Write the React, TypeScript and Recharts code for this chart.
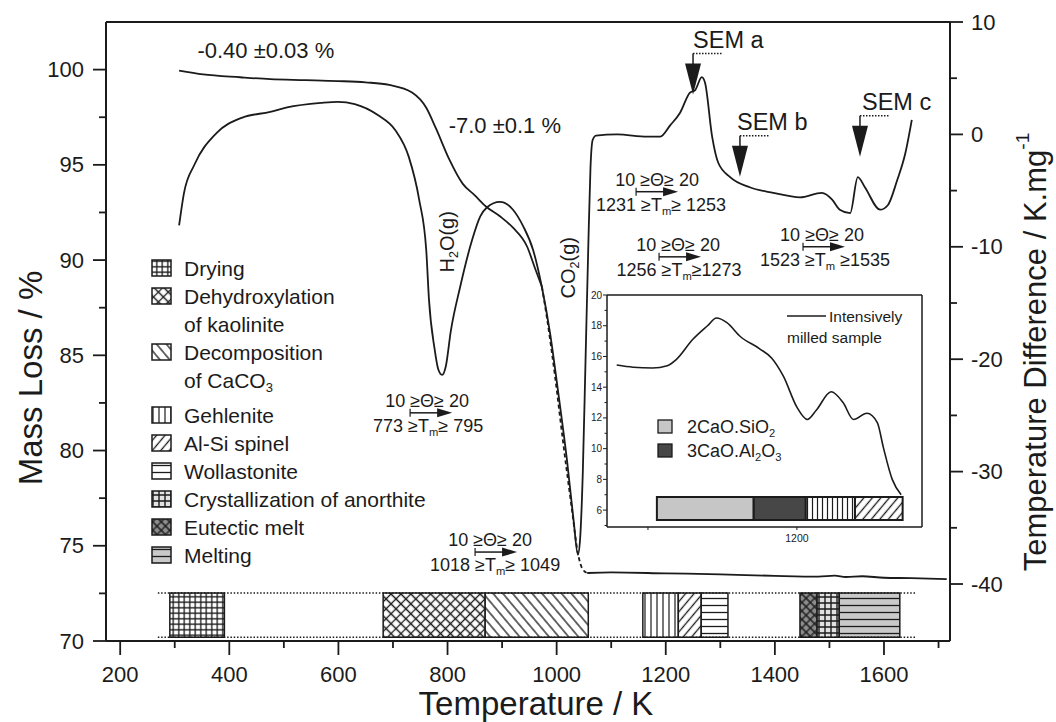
import React from 'react';
import {
  ComposedChart,
  LineChart,
  Line,
  XAxis,
  YAxis,
  ReferenceArea,
  ReferenceLine,
  ReferenceDot,
} from 'recharts';

const FONT = '"Liberation Sans", Arial, Helvetica, sans-serif';
const INK = '#1b1b1b';

// mass loss (TG), left axis
const tgTemp = [308, 352, 420, 475, 540, 599, 650, 693, 735, 761, 779, 803, 828, 850, 871, 896, 920, 946, 960, 973];
const tgMass = [99.95, 99.75, 99.6, 99.5, 99.45, 99.4, 99.33, 99.2, 98.8, 98.0, 96.9, 95.3, 94.0, 93.4, 92.8, 92.3, 91.7, 90.7, 89.6, 88.6];
const tgDashTemp = [973, 982, 997, 1012, 1028, 1039, 1047, 1056];
const tgDashMass = [88.6, 87.0, 83.9, 80.4, 76.9, 74.6, 73.8, 73.57];
const tgTailTemp = [1056, 1100, 1200, 1300, 1400, 1480, 1510, 1530, 1560, 1600, 1650, 1715];
const tgTailMass = [73.57, 73.6, 73.55, 73.5, 73.42, 73.38, 73.43, 73.36, 73.4, 73.32, 73.3, 73.25];

// temperature difference (DTA), right axis
const dtaTemp = [
  308, 317, 336, 376, 424, 475, 506, 568, 599, 630, 673, 704, 729, 748, 761, 766, 776, 783, 790, 797,
  806, 823, 845, 860, 872, 896, 920, 939, 957, 973, 988, 1003, 1019, 1031, 1039, 1043, 1048, 1053, 1058, 1062,
  1066, 1072, 1111, 1166, 1190, 1208, 1226, 1244, 1254, 1266, 1272, 1285, 1296, 1318, 1354, 1397, 1446, 1486, 1505, 1519,
  1538, 1552, 1565, 1593, 1607, 1624, 1639, 1651,
];
const dtaDiff = [
  -8.1, -5.2, -2.7, 0.1, 1.5, 2.0, 2.4, 2.8, 2.9, 2.7, 1.7, 0.4, -2.0, -5.8, -10.3, -14.7, -19.0, -20.9, -21.4, -20.6,
  -17.5, -13.6, -9.4, -7.3, -6.5, -6.0, -6.7, -8.2, -10.3, -13.6, -17.7, -23.0, -29.0, -34.3, -37.4, -36.0, -30.0, -20.0, -10.0, -3.0,
  -0.5, -0.1, 0.0, -0.2, -0.2, 0.8, 1.9, 3.7, 3.95, 5.1, 4.6, -0.2, -2.5, -3.8, -4.7, -5.2, -5.6, -5.2, -5.8, -6.7,
  -7.0, -3.8, -4.7, -6.7, -6.3, -4.1, -1.7, 1.3,
];

// inset: intensively milled sample
const insetTemp = [1079, 1090, 1103, 1113, 1119, 1130, 1140, 1146, 1153, 1162, 1175, 1183, 1191, 1200, 1207, 1213, 1223, 1231, 1238, 1247, 1254, 1258, 1264, 1270];
const insetVal = [15.44, 15.3, 15.25, 15.4, 15.8, 17.1, 18.0, 18.5, 18.2, 17.3, 16.5, 15.9, 14.7, 12.7, 11.9, 12.5, 13.7, 13.0, 11.9, 12.3, 11.7, 10.1, 8.0, 7.0];

// reaction ranges
const phaseNames = [
  'Drying',
  'Dehydroxylation|of kaolinite',
  'Decomposition|of CaCO_3',
  'Gehlenite',
  'Al-Si spinel',
  'Wollastonite',
  'Crystallization of anorthite',
  'Eutectic melt',
  'Melting',
];
const phasePattern = ['p-grid', 'p-diamond', 'p-back', 'p-vert', 'p-fwd', 'p-horiz', 'p-grid-gray', 'p-diamond-dark', 'p-horiz-gray'];
const phaseStart = [291, 682, 869, 1158, 1223, 1265, 1477, 1446, 1518];
const phaseEnd = [391, 869, 1058, 1223, 1265, 1314, 1518, 1477, 1629];

const insetNames = ['2CaO.SiO_2', '3CaO.Al_2O_3', 'Gehlenite', 'Al-Si spinel'];
const insetFill = ['#c6c6c6', '#474747', 'url(#p-vert-fine)', 'url(#p-fwd)'];
const insetStart = [1106, 1171, 1206, 1239];
const insetEnd = [1171, 1206, 1239, 1271];

const xTicks = [200, 300, 400, 500, 600, 700, 800, 900, 1000, 1100, 1200, 1300, 1400, 1500, 1600, 1700];
const massTicks = [70, 72.5, 75, 77.5, 80, 82.5, 85, 87.5, 90, 92.5, 95, 97.5, 100];
const diffTicks = [-40, -35, -30, -25, -20, -15, -10, -5, 0, 5, 10];
const insetYTicks = [5, 6, 7, 8, 9, 10, 11, 12, 13, 14, 15, 16, 17, 18, 19, 20];
const insetXTicks = [1100, 1200];

const zip = (xs: number[], ys: number[]) => xs.map((t, i) => ({ t, v: ys[i] }));

// text with _x subscripts and ^x superscripts
function Rich({ text, size }: { text: string; size: number }) {
  const parts = text.split(/([_^]-?[0-9a-z])/).filter(Boolean);
  let off = 0;
  return (
    <>
      {parts.map((p, i) => {
        let target = 0;
        let body = p;
        let fs: number | undefined;
        if (p[0] === '_') {
          target = size * 0.35;
          body = p.slice(1);
          fs = size * 0.62;
        } else if (p[0] === '^') {
          target = -size * 0.42;
          body = p.slice(1);
          fs = size * 0.62;
        }
        const dy = target - off;
        off = target;
        return (
          <tspan key={i} dy={dy} fontSize={fs}>
            {body}
          </tspan>
        );
      })}
    </>
  );
}

function LeftTick({ x, y, payload }: any) {
  const v = payload.value;
  const major = v % 5 === 0;
  return (
    <g>
      <line x1={x} x2={x - (major ? 13 : 7)} y1={y} y2={y} stroke={INK} strokeWidth={1.8} />
      {major && (
        <text x={x - 22} y={y} textAnchor="end" dominantBaseline="central" fontSize={22} fill={INK} fontFamily={FONT}>
          {v}
        </text>
      )}
    </g>
  );
}

function RightTick({ x, y, payload }: any) {
  const v = payload.value;
  const major = v % 10 === 0;
  return (
    <g>
      <line x1={x} x2={x + (major ? 13 : 7)} y1={y} y2={y} stroke={INK} strokeWidth={1.8} />
      {major && (
        <text x={x + 21} y={y} textAnchor="start" dominantBaseline="central" fontSize={22} fill={INK} fontFamily={FONT}>
          {v}
        </text>
      )}
    </g>
  );
}

function BottomTick({ x, y, payload }: any) {
  const v = payload.value;
  const major = v % 200 === 0 && v <= 1600;
  return (
    <g>
      <line x1={x} x2={x} y1={y} y2={y + (major ? 14 : 7)} stroke={INK} strokeWidth={1.8} />
      {major && (
        <text x={x} y={y + 33} textAnchor="middle" dominantBaseline="central" fontSize={22} fill={INK} fontFamily={FONT}>
          {v}
        </text>
      )}
    </g>
  );
}

function InsetLeftTick({ x, y, payload }: any) {
  const v = payload.value;
  const major = v % 2 === 0;
  return (
    <g>
      <line x1={x} x2={x - (major ? 4 : 2.5)} y1={y} y2={y} stroke={INK} strokeWidth={1} />
      {major && (
        <text x={x - 5} y={y} textAnchor="end" dominantBaseline="central" fontSize={10} fill={INK} fontFamily={FONT}>
          {v}
        </text>
      )}
    </g>
  );
}

function InsetBottomTick({ x, y, payload }: any) {
  const v = payload.value;
  return (
    <g>
      <line x1={x} x2={x} y1={y} y2={y + 3} stroke={INK} strokeWidth={1} />
      {v % 200 === 0 && (
        <text x={x} y={y + 11} textAnchor="middle" dominantBaseline="central" fontSize={10.5} fill={INK} fontFamily={FONT}>
          {v}
        </text>
      )}
    </g>
  );
}

function ThetaNote({ cx, cy, lo, dxTop, dxBot }: any) {
  return (
    <g fontFamily={FONT} fontSize={18} fill={INK}>
      <text x={cx + dxTop} y={cy - 12} textAnchor="middle" dominantBaseline="central">
        10 ≥Θ≥ 20
      </text>
      <line x1={cx} x2={cx + 30} y1={cy} y2={cy} stroke={INK} strokeWidth={1.5} />
      <line x1={cx} x2={cx} y1={cy - 4} y2={cy + 4} stroke={INK} strokeWidth={1.2} />
      <polygon points={`${cx + 27},${cy - 4.5} ${cx + 42},${cy} ${cx + 27},${cy + 4.5}`} fill={INK} />
      <text x={cx + dxBot} y={cy + 13} textAnchor="middle" dominantBaseline="central">
        <Rich text={lo} size={18} />
      </text>
    </g>
  );
}

function SemNote({ cx, cy, label, dx }: any) {
  const top = cy - 41;
  return (
    <g fontFamily={FONT} fill={INK}>
      <line x1={cx} x2={cx} y1={top} y2={cy - 28} stroke={INK} strokeWidth={1.5} />
      <polygon points={`${cx - 8},${cy - 31} ${cx + 8},${cy - 31} ${cx},${cy}`} fill={INK} />
      <line x1={cx} x2={cx + 30} y1={top} y2={top} stroke={INK} strokeWidth={1.5} strokeDasharray="1.5 1.5" />
      <text x={cx + dx} y={top - 14} dominantBaseline="central" fontSize={23.5}>
        {label}
      </text>
    </g>
  );
}

function Note({ cx, cy, text, size = 20, angle = 0 }: any) {
  return (
    <text
      x={cx}
      y={cy}
      textAnchor="middle"
      dominantBaseline="central"
      fontSize={size}
      fill={INK}
      fontFamily={FONT}
      transform={angle ? `rotate(${angle} ${cx} ${cy})` : undefined}
    >
      <Rich text={text} size={size} />
    </text>
  );
}

function Patterns() {
  return (
    <svg width={0} height={0} style={{ position: 'absolute' }}>
      <defs>
        <pattern id="p-grid" width={5.5} height={5.5} patternUnits="userSpaceOnUse">
          <rect width={5.5} height={5.5} fill="#fff" />
          <path d="M0 2.75H5.5M2.75 0V5.5" stroke={INK} strokeWidth={1.3} />
        </pattern>
        <pattern id="p-grid-gray" width={6} height={6} patternUnits="userSpaceOnUse">
          <rect width={6} height={6} fill="#e2e2e2" />
          <path d="M0 3H6M3 0V6" stroke={INK} strokeWidth={1.4} />
        </pattern>
        <pattern id="p-diamond" width={7} height={7} patternUnits="userSpaceOnUse" patternTransform="rotate(45)">
          <rect width={7} height={7} fill="#fff" />
          <path d="M0 3.5H7M3.5 0V7" stroke={INK} strokeWidth={1.3} />
        </pattern>
        <pattern id="p-diamond-dark" width={6} height={6} patternUnits="userSpaceOnUse" patternTransform="rotate(45)">
          <rect width={6} height={6} fill="#8c8c8c" />
          <path d="M0 3H6M3 0V6" stroke={INK} strokeWidth={1.3} />
        </pattern>
        <pattern id="p-back" width={7.5} height={7.5} patternUnits="userSpaceOnUse" patternTransform="rotate(-40)">
          <rect width={7.5} height={7.5} fill="#fff" />
          <path d="M3.75 0V7.5" stroke={INK} strokeWidth={1.3} />
        </pattern>
        <pattern id="p-fwd" width={6.5} height={6.5} patternUnits="userSpaceOnUse" patternTransform="rotate(40)">
          <rect width={6.5} height={6.5} fill="#fff" />
          <path d="M3.25 0V6.5" stroke={INK} strokeWidth={1.3} />
        </pattern>
        <pattern id="p-vert" width={6} height={6} patternUnits="userSpaceOnUse">
          <rect width={6} height={6} fill="#fff" />
          <path d="M3 0V6" stroke={INK} strokeWidth={1.2} />
        </pattern>
        <pattern id="p-vert-fine" width={5} height={5} patternUnits="userSpaceOnUse">
          <rect width={5} height={5} fill="#fff" />
          <path d="M2.5 0V5" stroke={INK} strokeWidth={1.2} />
        </pattern>
        <pattern id="p-horiz" width={7} height={7} patternUnits="userSpaceOnUse">
          <rect width={7} height={7} fill="#fff" />
          <path d="M0 3.5H7" stroke={INK} strokeWidth={1.3} />
        </pattern>
        <pattern id="p-horiz-gray" width={7} height={7} patternUnits="userSpaceOnUse">
          <rect width={7} height={7} fill="#c9c9c9" />
          <path d="M0 3.5H7" stroke={INK} strokeWidth={1.3} />
        </pattern>
      </defs>
    </svg>
  );
}

function Overlay() {
  // legend rows for the reaction ranges
  const lineY = (k: number) => 268 + k * 28 + (k > 4 ? 7 : 0);
  let row = 0;
  const rows: React.ReactNode[] = [];
  phaseNames.forEach((name, i) => {
    const lines = name.split('|');
    const y0 = lineY(row);
    rows.push(
      <rect key={`s${i}`} x={152} y={y0 - 8} width={19} height={16} fill={`url(#${phasePattern[i]})`} stroke={INK} strokeWidth={1.5} />,
    );
    lines.forEach((ln, j) => {
      rows.push(
        <text key={`t${i}-${j}`} x={184} y={lineY(row + j)} dominantBaseline="central" fontSize={21} fill={INK} fontFamily={FONT}>
          <Rich text={ln} size={21} />
        </text>,
      );
    });
    row += lines.length;
  });

  return (
    <svg width={1056} height={722} style={{ position: 'absolute', left: 0, top: 0, pointerEvents: 'none' }}>
      {rows}
      {/* axis titles */}
      <text x={536} y={703} textAnchor="middle" dominantBaseline="central" fontSize={33} fill={INK} fontFamily={FONT}>
        Temperature / K
      </text>
      <text x={30} y={378} textAnchor="middle" dominantBaseline="central" fontSize={33} fill={INK} fontFamily={FONT} transform="rotate(-90 30 378)">
        Mass Loss / %
      </text>
      <text x={1035} y={352} textAnchor="middle" dominantBaseline="central" fontSize={31} fill={INK} fontFamily={FONT} transform="rotate(-90 1035 352)">
        <Rich text="Temperature Difference / K.mg^-1" size={31} />
      </text>
      {/* inset legends */}
      {insetNames.slice(0, 2).map((n, i) => (
        <g key={n}>
          <rect x={658} y={420 + i * 24} width={14} height={13} fill={insetFill[i]} stroke={INK} strokeWidth={1.3} />
          <text x={687} y={427 + i * 24} dominantBaseline="central" fontSize={18} fill={INK} fontFamily={FONT}>
            <Rich text={n} size={18} />
          </text>
        </g>
      ))}
      <line x1={787} x2={826} y1={316} y2={316} stroke={INK} strokeWidth={1.5} />
      <text x={829} y={316} dominantBaseline="central" fontSize={15.5} fill={INK} fontFamily={FONT}>
        Intensively
      </text>
      <text x={787} y={337} dominantBaseline="central" fontSize={15.5} fill={INK} fontFamily={FONT}>
        milled sample
      </text>
    </svg>
  );
}

function InsetChart() {
  return (
    <div style={{ position: 'absolute', left: 580, top: 285, width: 350, height: 265 }}>
      <LineChart width={350} height={265} margin={{ top: 10, right: 8, bottom: 0, left: 0 }}>
        <XAxis
          type="number"
          dataKey="t"
          domain={[1072.5, 1284]}
          ticks={insetXTicks}
          interval={0}
          tick={<InsetBottomTick />}
          tickSize={0}
          tickMargin={0}
          tickLine={false}
          axisLine={{ stroke: INK, strokeWidth: 1.5 }}
          height={23}
          allowDataOverflow
        />
        <YAxis
          type="number"
          domain={[4.9, 20]}
          ticks={insetYTicks}
          interval={0}
          tick={<InsetLeftTick />}
          tickSize={0}
          tickMargin={0}
          tickLine={false}
          axisLine={{ stroke: INK, strokeWidth: 1.5 }}
          width={27}
          allowDataOverflow
        />
        <ReferenceArea x1={1072.5} x2={1284} y1={4.9} y2={20} fill="#fff" fillOpacity={1} stroke="none" />
        <ReferenceLine y={20} stroke={INK} strokeWidth={1.5} />
        <ReferenceLine x={1284} stroke={INK} strokeWidth={1.5} />
        {insetNames.map((n, i) => (
          <ReferenceArea
            key={n}
            x1={insetStart[i]}
            x2={insetEnd[i]}
            y1={5.35}
            y2={6.85}
            fill={insetFill[i]}
            fillOpacity={1}
            stroke={INK}
            strokeWidth={2}
          />
        ))}
        <Line
          data={zip(insetTemp, insetVal)}
          dataKey="v"
          type="monotone"
          stroke={INK}
          strokeWidth={1.6}
          dot={false}
          isAnimationActive={false}
        />
      </LineChart>
    </div>
  );
}

export default function App() {
  const tgSolid = zip(tgTemp, tgMass);
  const tgDash = zip(tgDashTemp, tgDashMass);
  const tgTail = zip(tgTailTemp, tgTailMass);
  const dta = zip(dtaTemp, dtaDiff);

  return (
    <div style={{ position: 'absolute', left: 0, top: 0, width: 1056, height: 722, background: '#fff' }}>
      <Patterns />
      <ComposedChart width={1056} height={722} margin={{ top: 22, right: 0, bottom: 0, left: 0 }}>
        <XAxis
          type="number"
          dataKey="t"
          domain={[174, 1721]}
          ticks={xTicks}
          interval={0}
          tick={<BottomTick />}
          tickSize={0}
          tickMargin={0}
          tickLine={false}
          axisLine={{ stroke: INK, strokeWidth: 2 }}
          height={81}
          allowDataOverflow
        />
        <YAxis
          yAxisId="m"
          type="number"
          domain={[70, 102.5]}
          ticks={massTicks}
          interval={0}
          tick={<LeftTick />}
          tickSize={0}
          tickMargin={0}
          tickLine={false}
          axisLine={{ stroke: INK, strokeWidth: 2 }}
          width={106}
          allowDataOverflow
        />
        <YAxis
          yAxisId="d"
          orientation="right"
          type="number"
          domain={[-45.07, 10]}
          ticks={diffTicks}
          interval={0}
          tick={<RightTick />}
          tickSize={0}
          tickMargin={0}
          tickLine={false}
          axisLine={{ stroke: INK, strokeWidth: 2 }}
          width={106}
          allowDataOverflow
        />
        <ReferenceLine yAxisId="m" y={102.5} stroke={INK} strokeWidth={2} />

        {/* dotted guide lines framing the reaction ranges */}
        <ReferenceLine yAxisId="m" segment={[{ x: 269, y: 72.52 }, { x: 1660, y: 72.52 }]} stroke={INK} strokeWidth={1.5} strokeDasharray="1.5 1.8" />
        <ReferenceLine yAxisId="m" segment={[{ x: 269, y: 70.2 }, { x: 1660, y: 70.2 }]} stroke={INK} strokeWidth={1.5} strokeDasharray="1.5 1.8" />
        {phaseNames.map((n, i) => (
          <ReferenceArea
            key={n}
            yAxisId="m"
            x1={phaseStart[i]}
            x2={phaseEnd[i]}
            y1={70.2}
            y2={72.52}
            fill={`url(#${phasePattern[i]})`}
            fillOpacity={1}
            stroke={INK}
            strokeWidth={1.5}
          />
        ))}

        <Line yAxisId="m" data={tgSolid} dataKey="v" type="monotone" stroke={INK} strokeWidth={1.8} dot={false} isAnimationActive={false} />
        <Line yAxisId="m" data={tgDash} dataKey="v" type="monotone" stroke={INK} strokeWidth={1.8} strokeDasharray="4 3" dot={false} isAnimationActive={false} />
        <Line yAxisId="m" data={tgTail} dataKey="v" type="monotone" stroke={INK} strokeWidth={1.8} dot={false} isAnimationActive={false} />
        <Line yAxisId="d" data={dta} dataKey="v" type="monotone" stroke={INK} strokeWidth={1.8} dot={false} isAnimationActive={false} />

        {/* annotations */}
        <ReferenceDot yAxisId="m" x={467} y={101.05} r={0} shape={(p: any) => <Note cx={p.cx} cy={p.cy} text="-0.40 ±0.03 %" size={22} />} />
        <ReferenceDot yAxisId="m" x={905} y={97.1} r={0} shape={(p: any) => <Note cx={p.cx} cy={p.cy} text="-7.0 ±0.1 %" size={22} />} />
        <ReferenceDot yAxisId="m" x={799} y={90.96} r={0} shape={(p: any) => <Note cx={p.cx} cy={p.cy} text="H_2O(g)" size={20} angle={-90} />} />
        <ReferenceDot yAxisId="m" x={1021} y={89.6} r={0} shape={(p: any) => <Note cx={p.cx} cy={p.cy} text="CO_2(g)" size={20} angle={-90} />} />

        <ReferenceDot yAxisId="m" x={731.4} y={81.98} r={0} shape={(p: any) => <ThetaNote cx={p.cx} cy={p.cy} lo="773 ≥T_m≥ 795" dxTop={17} dxBot={18} />} />
        <ReferenceDot yAxisId="m" x={850.5} y={74.67} r={0} shape={(p: any) => <ThetaNote cx={p.cx} cy={p.cy} lo="1018 ≥T_m≥ 1049" dxTop={15} dxBot={20} />} />
        <ReferenceDot yAxisId="m" x={1145.6} y={93.59} r={0} shape={(p: any) => <ThetaNote cx={p.cx} cy={p.cy} lo="1231 ≥T_m≥ 1253" dxTop={21} dxBot={25} />} />
        <ReferenceDot yAxisId="m" x={1187.7} y={90.17} r={0} shape={(p: any) => <ThetaNote cx={p.cx} cy={p.cy} lo="1256 ≥T_m≥1273" dxTop={19} dxBot={20} />} />
        <ReferenceDot yAxisId="m" x={1451.6} y={90.7} r={0} shape={(p: any) => <ThetaNote cx={p.cx} cy={p.cy} lo="1523 ≥T_m ≥1535" dxTop={19} dxBot={22} />} />

        <ReferenceDot yAxisId="m" x={1250} y={98.69} r={0} shape={(p: any) => <SemNote cx={p.cx} cy={p.cy} label="SEM a" dx={0} />} />
        <ReferenceDot yAxisId="m" x={1336} y={94.38} r={0} shape={(p: any) => <SemNote cx={p.cx} cy={p.cy} label="SEM b" dx={-3} />} />
        <ReferenceDot yAxisId="m" x={1556} y={95.43} r={0} shape={(p: any) => <SemNote cx={p.cx} cy={p.cy} label="SEM c" dx={2} />} />
      </ComposedChart>
      <InsetChart />
      <Overlay />
    </div>
  );
}
